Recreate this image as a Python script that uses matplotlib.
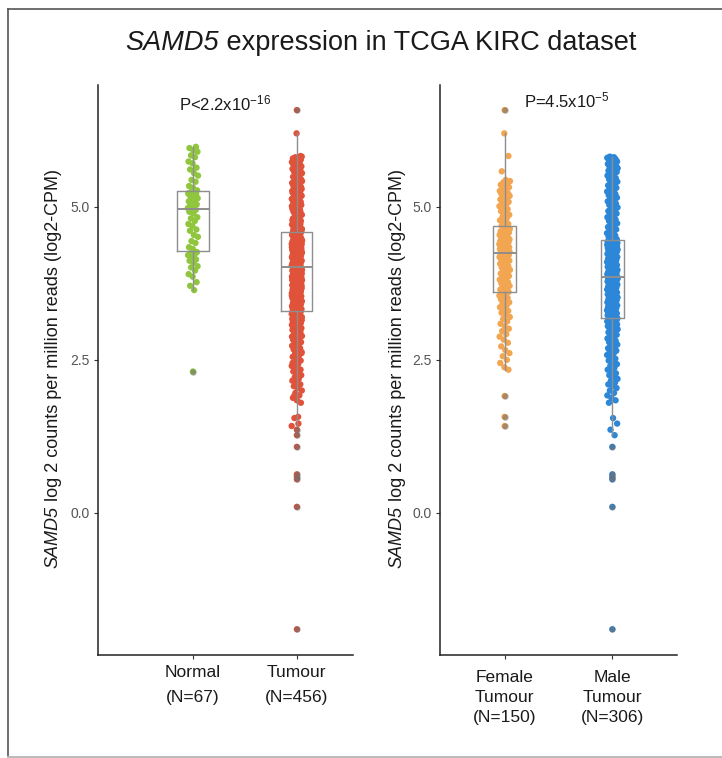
import numpy as np
import matplotlib
matplotlib.use('Agg')
import matplotlib.pyplot as plt
from matplotlib.lines import Line2D

plt.rcParams['font.family'] = ['Liberation Sans', 'DejaVu Sans']
plt.rcParams['mathtext.fontset'] = 'custom'
plt.rcParams['mathtext.rm'] = 'Liberation Sans'
plt.rcParams['mathtext.it'] = 'Liberation Sans:italic'

# SAMD5 log2-CPM values
normal = [2.31, 3.64, 3.71, 3.77, 3.86, 3.90, 3.96, 4.01, 4.03, 4.09, 4.12, 4.14, 4.18, 4.21, 4.22, 4.24, 4.26,
          4.31, 4.34, 4.41, 4.44, 4.51, 4.54, 4.61, 4.63, 4.69, 4.72, 4.77, 4.81, 4.83, 4.89, 4.92, 4.95, 4.96,
          4.98, 5.00, 5.03, 5.04, 5.06, 5.09, 5.10, 5.13, 5.14, 5.16, 5.19, 5.20, 5.21, 5.22, 5.23, 5.24, 5.27,
          5.31, 5.34, 5.41, 5.44, 5.51, 5.55, 5.61, 5.64, 5.71, 5.74, 5.81, 5.84, 5.90, 5.92, 5.96, 5.98]

female = [1.42, 1.57, 1.91,
          2.34, 2.38, 2.45, 2.50, 2.56, 2.61, 2.66, 2.72, 2.78, 2.83, 2.88, 2.92, 2.97, 3.01, 3.05, 3.09, 3.13,
          3.17, 3.20, 3.24, 3.27, 3.30, 3.33, 3.36, 3.39, 3.42, 3.44, 3.47, 3.49, 3.51, 3.53, 3.55, 3.57, 3.59,
          3.61, 3.63, 3.65, 3.67, 3.69, 3.71, 3.73, 3.75, 3.77, 3.79, 3.81, 3.83, 3.85, 3.87, 3.89, 3.91, 3.93,
          3.95, 3.97, 3.99, 4.01, 4.03, 4.05, 4.07, 4.09, 4.10, 4.12, 4.13, 4.15, 4.16, 4.17, 4.18, 4.19, 4.20,
          4.21, 4.22, 4.23,
          4.24, 4.25, 4.26, 4.27, 4.28, 4.29, 4.30, 4.31, 4.32, 4.33, 4.34, 4.35, 4.36, 4.37, 4.38, 4.39, 4.40,
          4.41, 4.42, 4.43, 4.44, 4.45, 4.46, 4.47, 4.48, 4.49, 4.50, 4.52, 4.54, 4.56, 4.57, 4.58, 4.59, 4.60,
          4.61, 4.62, 4.64,
          4.66, 4.69, 4.72, 4.75, 4.78, 4.81, 4.84, 4.87, 4.90, 4.93, 4.96, 4.99, 5.01, 5.02, 5.05, 5.08, 5.10,
          5.12, 5.14, 5.16, 5.18, 5.20, 5.21, 5.22, 5.24, 5.26, 5.28, 5.30, 5.32, 5.34, 5.36, 5.38, 5.40, 5.42,
          5.44, 5.58, 5.83, 6.20, 6.58]

male = [-1.90, 0.10, 0.55, 0.59, 0.63, 1.08, 1.27,
        1.36, 1.46, 1.55, 1.80, 1.84, 1.88, 1.92, 1.96, 2.00, 2.04, 2.07, 2.10, 2.13, 2.16, 2.19, 2.22, 2.25,
        2.28, 2.31, 2.34, 2.37, 2.40, 2.43, 2.46, 2.49, 2.52, 2.55, 2.58, 2.61, 2.63, 2.65, 2.67, 2.69, 2.71,
        2.73, 2.75, 2.77, 2.79, 2.81, 2.83, 2.85, 2.87, 2.89, 2.91, 2.93, 2.95, 2.97, 2.99, 3.00, 3.01, 3.02,
        3.03, 3.04, 3.05, 3.06, 3.07, 3.08, 3.09, 3.10, 3.11, 3.12, 3.13, 3.14, 3.15, 3.15, 3.16, 3.16, 3.17,
        3.17,
        3.18, 3.19, 3.20, 3.21, 3.22, 3.23, 3.24, 3.25, 3.26, 3.27, 3.28, 3.29, 3.30, 3.31, 3.32, 3.33, 3.34,
        3.35, 3.36, 3.37, 3.38, 3.39, 3.40, 3.41, 3.42, 3.43, 3.44, 3.45, 3.46, 3.47, 3.48, 3.49, 3.50, 3.51,
        3.52, 3.53, 3.54, 3.55, 3.56, 3.57, 3.58, 3.59, 3.60, 3.61, 3.62, 3.63, 3.64, 3.65, 3.66, 3.67, 3.68,
        3.69, 3.70, 3.71, 3.72, 3.73, 3.74, 3.75, 3.76, 3.77, 3.78, 3.79, 3.80, 3.80, 3.81, 3.81, 3.82, 3.82,
        3.83, 3.83, 3.84, 3.84, 3.85, 3.85, 3.85, 3.86, 3.86,
        3.87, 3.88, 3.88, 3.89, 3.90, 3.91, 3.91, 3.92, 3.93, 3.94, 3.95, 3.96, 3.97, 3.98, 3.99, 4.00, 4.01,
        4.02, 4.03, 4.04, 4.05, 4.06, 4.07, 4.08, 4.09, 4.10, 4.11, 4.12, 4.13, 4.14, 4.15, 4.16, 4.17, 4.18,
        4.19, 4.20, 4.21, 4.22, 4.23, 4.24, 4.25, 4.26, 4.27, 4.28, 4.28, 4.29, 4.30, 4.30, 4.31, 4.32, 4.32,
        4.33, 4.34, 4.34, 4.35, 4.36, 4.36, 4.37, 4.37, 4.38, 4.38, 4.39, 4.39, 4.40, 4.40, 4.41, 4.41, 4.41,
        4.42, 4.42, 4.42, 4.43, 4.43, 4.43,
        4.45, 4.47, 4.49, 4.51, 4.53, 4.55, 4.57, 4.59, 4.61, 4.63, 4.65, 4.67, 4.69, 4.71, 4.73, 4.75, 4.77,
        4.79, 4.81, 4.83, 4.85, 4.87, 4.89, 4.91, 4.93, 4.95, 4.97, 4.99, 5.01, 5.03, 5.05, 5.07, 5.09, 5.11,
        5.13, 5.15, 5.17, 5.19, 5.21, 5.23, 5.25, 5.27, 5.29, 5.31, 5.33, 5.35, 5.37, 5.39, 5.41, 5.43, 5.45,
        5.47, 5.49, 5.51, 5.53, 5.55, 5.57, 5.58, 5.59, 5.61, 5.62, 5.63, 5.65, 5.66, 5.67, 5.69, 5.70, 5.71,
        5.73, 5.74, 5.75, 5.77, 5.78, 5.79, 5.80, 5.81, 5.82]

tumour = female + male

left_labels = ['Normal\n(N=67)', 'Tumour\n(N=456)']
right_labels = ['Female\nTumour\n(N=150)', 'Male\nTumour\n(N=306)']
left_colors = ['#8fc63d', '#e0523a']
right_colors = ['#f2a652', '#2c87d8']
p_left = r'P<2.2x10$^{-16}$'
p_right = r'P=4.5x10$^{-5}$'

gene = 'SAMD5'
ylab_rest = ' log 2 counts per million reads (log2-CPM)'
title_rest = ' expression in TCGA KIRC dataset'

fig = plt.figure(figsize=(7.22, 7.58), dpi=100)
W, H = 722, 758
TXT = '#1a1a1a'


def strip_box(ax, groups, colors, box_w, xlim):
    for i, (vals, col) in enumerate(zip(groups, colors)):
        vals = np.array(vals)
        n = len(vals)
        offs = 0.05 * (((np.arange(n) * 0.6180339887) % 1) * 2 - 1)
        # outliers sit under the boxplot's gray flier marks
        q1, q3 = np.percentile(vals, [25, 75])
        iqr = q3 - q1
        out = (vals < q1 - 1.5 * iqr) | (vals > q3 + 1.5 * iqr)
        offs[out] = 0.0
        ax.scatter(i + 1 + offs, vals, s=21, color=col, edgecolors='none', zorder=2)
    ax.boxplot(groups, positions=[1, 2], widths=box_w, whis=1.5, patch_artist=False,
               boxprops=dict(color='#8e8e8e', linewidth=1.0),
               medianprops=dict(color='#8e8e8e', linewidth=1.4),
               whiskerprops=dict(color='#8e8e8e', linewidth=1.0),
               capprops=dict(linewidth=0),
               flierprops=dict(marker='o', markersize=4.6, markerfacecolor='#6f6f6f',
                               markeredgecolor='none', alpha=0.55),
               zorder=3)
    ax.set_xlim(*xlim)
    ax.set_ylim(-2.32, 6.99)
    ax.set_yticks([0.0, 2.5, 5.0])
    ax.set_yticklabels(['0.0', '2.5', '5.0'])
    for s in ['top', 'right']:
        ax.spines[s].set_visible(False)
    for s in ['left', 'bottom']:
        ax.spines[s].set_color('#222222')
        ax.spines[s].set_linewidth(1.1)
    ax.tick_params(axis='y', labelsize=10, labelcolor='#555555', length=3, width=0.8, color='#333333', pad=3)
    ax.tick_params(axis='x', labelsize=12.5, labelcolor=TXT, length=3, width=0.8, color='#333333', pad=4)


def ylabel_two_part(ax, x_px):
    # italic gene name followed by plain text, rotated
    t1 = ax.annotate(gene, xy=(x_px / W, 1 - 568 / H), xycoords='figure fraction', rotation=90,
                     ha='center', va='bottom', fontsize=13, style='italic', color=TXT,
                     annotation_clip=False)
    ax.annotate(ylab_rest, xy=(0.5, 1), xycoords=t1, rotation=90, ha='center', va='bottom',
                fontsize=13, color=TXT, annotation_clip=False)


ax1 = fig.add_axes([98 / W, 1 - 655 / H, 255 / W, 570 / H])
strip_box(ax1, [normal, tumour], left_colors, 0.30, (0.087, 2.54))
ax1.set_xticks([1, 2])
ax1.set_xticklabels(left_labels, linespacing=1.85)
ylabel_two_part(ax1, 53)

ax2 = fig.add_axes([440 / W, 1 - 655 / H, 237 / W, 570 / H])
strip_box(ax2, [female, male], right_colors, 0.21, (0.4, 2.6))
ax2.set_xticks([1, 2])
ax2.set_xticklabels(right_labels, linespacing=1.45)
ax2.tick_params(axis='x', pad=7.5)
ylabel_two_part(ax2, 397)

# title: italic gene symbol then the rest
tt = ax1.annotate(gene, xy=(125 / W, 1 - 56 / H), xycoords='figure fraction', ha='left', va='bottom',
                  fontsize=19.5, style='italic', color=TXT, annotation_clip=False)
ax1.annotate(title_rest, xy=(1, 0), xycoords=tt, ha='left', va='bottom', fontsize=19.5, color=TXT,
             annotation_clip=False)

fig.text(225 / W, 1 - 103 / H, p_left, ha='center', va='center', fontsize=12, color=TXT)
fig.text(567 / W, 1 - 100 / H, p_right, ha='center', va='center', fontsize=12, color=TXT)

# outer frame
fig.add_artist(Line2D([8 / W, 1], [1 - 9 / H, 1 - 9 / H], color='#555555', linewidth=1.2))
fig.add_artist(Line2D([8 / W, 8 / W], [0, 1 - 9 / H], color='#555555', linewidth=1.2))
fig.add_artist(Line2D([8 / W, 1], [1.5 / H, 1.5 / H], color='#bbbbbb', linewidth=1.5))

fig.savefig('out.png', dpi=100)
